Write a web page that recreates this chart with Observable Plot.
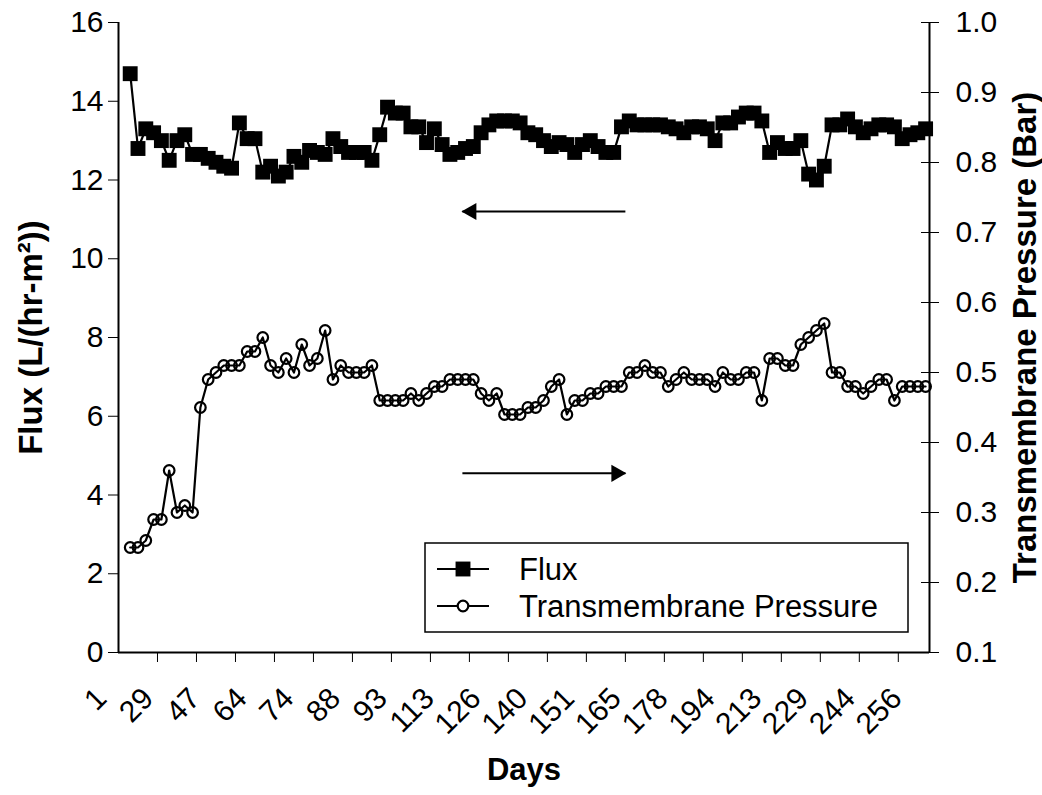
<!DOCTYPE html>
<html>
<head>
<meta charset="utf-8">
<script src="https://cdn.jsdelivr.net/npm/d3@7"></script>
<script src="https://cdn.jsdelivr.net/npm/@observablehq/plot@0.6"></script>
<style>
  html, body { margin: 0; padding: 0; background: #fff; }
  #chart svg { font-family: "Liberation Sans", Arial, sans-serif; }
</style>
</head>
<body>
<div id="chart"></div>
<script>
// Category axis: 104 categories (first category, day 1, has no data)
const nCategories = 104;
const dayLabels = ["1","29","47","64","74","88","93","113","126","140","151","165","178","194","213","229","244","256"];
const labelEvery = 6;
const tickEvery = 5;

// Flux, L/(hr-m2), categories 1..103
const flux = [
  14.7, 12.8, 13.3, 13.2, 13.0, 12.5, 13.0, 13.15, 12.65, 12.65,
  12.55, 12.45, 12.35, 12.3, 13.45, 13.05, 13.05, 12.2, 12.35, 12.1,
  12.2, 12.6, 12.45, 12.75, 12.7, 12.65, 13.05, 12.85, 12.7, 12.7,
  12.7, 12.5, 13.15, 13.85, 13.7, 13.7, 13.35, 13.35, 12.95, 13.3,
  12.9, 12.65, 12.7, 12.8, 12.85, 13.2, 13.4, 13.5, 13.5, 13.5,
  13.45, 13.2, 13.15, 13.0, 12.85, 12.95, 12.9, 12.7, 12.9, 13.0,
  12.85, 12.7, 12.7, 13.35, 13.5, 13.4, 13.4, 13.4, 13.4, 13.35,
  13.3, 13.2, 13.35, 13.35, 13.3, 13.0, 13.45, 13.45, 13.6, 13.7,
  13.7, 13.5, 12.7, 12.95, 12.8, 12.8, 13.0, 12.15, 12.0, 12.35,
  13.4, 13.4, 13.55, 13.35, 13.2, 13.3, 13.4, 13.4, 13.35, 13.05,
  13.15, 13.2, 13.3
];

// Transmembrane pressure, Bar, categories 1..103
const tmp = [
  0.25, 0.25, 0.26, 0.29, 0.29, 0.36, 0.30, 0.31, 0.30, 0.45,
  0.49, 0.50, 0.51, 0.51, 0.51, 0.53, 0.53, 0.55, 0.51, 0.50,
  0.52, 0.50, 0.54, 0.51, 0.52, 0.56, 0.49, 0.51, 0.50, 0.50,
  0.50, 0.51, 0.46, 0.46, 0.46, 0.46, 0.47, 0.46, 0.47, 0.48,
  0.48, 0.49, 0.49, 0.49, 0.49, 0.47, 0.46, 0.47, 0.44, 0.44,
  0.44, 0.45, 0.45, 0.46, 0.48, 0.49, 0.44, 0.46, 0.46, 0.47,
  0.47, 0.48, 0.48, 0.48, 0.50, 0.50, 0.51, 0.50, 0.50, 0.48,
  0.49, 0.50, 0.49, 0.49, 0.49, 0.48, 0.50, 0.49, 0.49, 0.50,
  0.50, 0.46, 0.52, 0.52, 0.51, 0.51, 0.54, 0.55, 0.56, 0.57,
  0.50, 0.50, 0.48, 0.48, 0.47, 0.48, 0.49, 0.49, 0.46, 0.48,
  0.48, 0.48, 0.48
];

const leftTicks = [0, 2, 4, 6, 8, 10, 12, 14, 16];
const rightTicks = [0.1, 0.2, 0.3, 0.4, 0.5, 0.6, 0.7, 0.8, 0.9, 1.0];
const leftDomain = [0, 16];
const rightDomain = [0.1, 1.0];

// Direction arrows (data units: category index, flux units)
const arrowNotes = [
  {x1: 64.5, x2: 43.6, y: 11.2, dir: "left"},
  {x1: 43.6, x2: 64.5, y: 4.55, dir: "right"}
];

// map pressure onto the left scale
const toLeft = p => (p - rightDomain[0]) / (rightDomain[1] - rightDomain[0]) * (leftDomain[1] - leftDomain[0]) + leftDomain[0];
const fromLeft = v => rightDomain[0] + (v - leftDomain[0]) / (leftDomain[1] - leftDomain[0]) * (rightDomain[1] - rightDomain[0]);

const rows = flux.map((f, k) => ({idx: k + 1, flux: f, tmp: tmp[k]}));
const labelRows = dayLabels.map((t, k) => ({idx: k * labelEvery, text: t}));
const tickPos = d3.range(-0.5, nCategories - 0.5 + 1e-9, tickEvery).filter(v => v > -0.5 && v < nCategories - 0.5);

const FS = 30;
const W = 1042, H = 795;
const chart = Plot.plot({
  width: W,
  height: H,
  marginLeft: 118,
  marginRight: 113,
  marginTop: 22,
  marginBottom: 143,
  style: {fontFamily: "Liberation Sans, Arial, sans-serif", color: "black", background: "white"},
  x: {type: "linear", domain: [-0.5, nCategories - 0.5]},
  y: {domain: leftDomain},
  marks: [
    // axes
    Plot.axisY({ticks: leftTicks, tickSize: 10, tickPadding: 5, fontSize: FS, label: null, tickFormat: d => String(d)}),
    Plot.axisY({anchor: "right", ticks: rightTicks.map(toLeft), tickSize: 9, tickPadding: 17, fontSize: FS, label: null,
      tickFormat: d => fromLeft(d).toFixed(1)}),
    Plot.axisY({anchor: "right", ticks: rightTicks.map(toLeft), tickSize: -9, label: null, tickFormat: () => ""}),
    Plot.axisX({ticks: tickPos, tickSize: 10, label: null, tickFormat: () => ""}),
    Plot.text(labelRows, {x: "idx", y: () => leftDomain[0], text: "text", rotate: -45, textAnchor: "end",
      lineAnchor: "middle", dx: -21, dy: 41, fontSize: FS}),
    Plot.ruleX([-0.5], {strokeWidth: 2}),
    Plot.ruleX([nCategories - 0.5], {strokeWidth: 2}),
    Plot.ruleY([leftDomain[0]], {strokeWidth: 2}),
    // axis titles
    Plot.text(["Flux (L/(hr-m²))"], {frameAnchor: "left", textAnchor: "middle", dx: -87, rotate: -90, fontSize: 33, fontWeight: "bold"}),
    Plot.text(["Transmembrane Pressure (Bar)"], {frameAnchor: "right", textAnchor: "middle", dx: 96, rotate: -90, fontSize: 33, fontWeight: "bold"}),
    Plot.text(["Days"], {frameAnchor: "bottom", dy: 127, fontSize: 31, fontWeight: "bold"}),
    // series
    Plot.line(rows, {x: "idx", y: "flux", stroke: "black", strokeWidth: 2.2}),
    Plot.dot(rows, {x: "idx", y: "flux", symbol: "square", r: 8.4, fill: "black", stroke: "none"}),
    Plot.line(rows, {x: "idx", y: d => toLeft(d.tmp), stroke: "black", strokeWidth: 2.2}),
    Plot.dot(rows, {x: "idx", y: d => toLeft(d.tmp), symbol: "circle", r: 5.3, fill: "none", stroke: "black", strokeWidth: 2.2}),
    // arrows
    Plot.link(arrowNotes, {x1: "x1", x2: "x2", y1: "y", y2: "y", stroke: "black", strokeWidth: 2}),
    Plot.dot(arrowNotes.filter(d => d.dir === "left"), {x: "x2", y: "y", symbol: "triangle", r: 6.4, rotate: -90, dx: 9, fill: "black"}),
    Plot.dot(arrowNotes.filter(d => d.dir === "right"), {x: "x2", y: "y", symbol: "triangle", r: 6.4, rotate: 90, dx: -9, fill: "black"})
  ]
});
document.getElementById("chart").appendChild(chart);

// legend box drawn inside the plot
const svg = d3.select(chart);
const lg = svg.append("g").attr("font-family", "Liberation Sans, Arial, sans-serif").attr("font-size", 31)
  .attr("text-anchor", "start");
lg.append("rect").attr("x", 425).attr("y", 543).attr("width", 483).attr("height", 89)
  .attr("fill", "white").attr("stroke", "black").attr("stroke-width", 1.5);
const legendItems = [
  {label: "Flux", symbol: d3.symbolSquare, filled: true, size: Math.PI * 8.4 * 8.4},
  {label: "Transmembrane Pressure", symbol: d3.symbolCircle, filled: false, size: Math.PI * 5.3 * 5.3}
];
legendItems.forEach((it, k) => {
  const cy = 569 + k * 37;
  lg.append("line").attr("x1", 437).attr("x2", 489).attr("y1", cy).attr("y2", cy).attr("stroke", "black").attr("stroke-width", 2.2);
  lg.append("path").attr("d", d3.symbol(it.symbol, it.size)()).attr("transform", `translate(463,${cy})`)
    .attr("fill", it.filled ? "black" : "white").attr("stroke", it.filled ? "none" : "black").attr("stroke-width", 2.2);
  lg.append("text").attr("x", 519).attr("y", cy).attr("dy", "0.36em").attr("text-anchor", "start").text(it.label);
});
</script>
</body>
</html>
